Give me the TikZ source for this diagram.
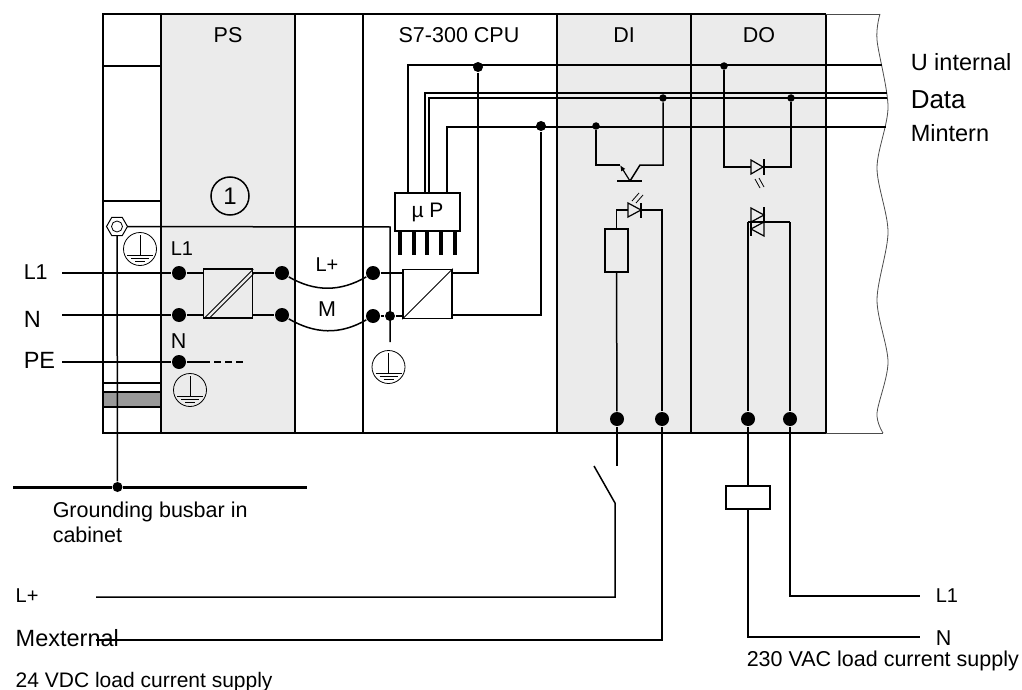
\documentclass[tikz,border=0pt]{standalone}
\usepackage{fontspec}
\setmainfont{Liberation Sans}
\usetikzlibrary{shapes.geometric,arrows.meta}

\begin{document}
\begin{tikzpicture}[x=1pt,y=-1pt,line width=1.5pt,
			big dot/.style={circle,fill=black,inner sep=0pt,minimum size=14pt},
			small dot/.style={circle,fill=black,inner sep=0pt,minimum size=10pt},
			tiny dot/.style={circle,fill=black,inner sep=0pt,minimum size=7.5pt},
			box node/.style={rectangle,draw,inner sep=0pt,minimum width=49pt,minimum height=49pt},
			earth node/.style={circle,draw,line width=0.8pt,inner sep=0pt,minimum size=33pt},
			lbl/.style={inner sep=0pt,font=\fontsize{21.5}{24}\selectfont,anchor=base},
			lblw/.style={lbl,anchor=base west},
			small lbl/.style={lblw,font=\fontsize{20}{24}\selectfont},
			big lbl/.style={lblw,font=\fontsize{23.5}{28}\selectfont}
			]
			\useasboundingbox (0,0) rectangle (1022,690);

			\def \top {14};
			\def \bot {433};

			\fill[black!8] (161,\top) rectangle (295,\bot);
			\fill[black!8] (557,\top) rectangle (826,\bot);
			\fill[black!40] (103,392) rectangle (161,407);

			\draw (826,\top) -- (103,\top) -- (103,\bot) -- (826,\bot);
			\foreach \x in {161,295,363,557,691,826} {
				\draw (\x,\top) -- (\x,\bot);
			}
			\foreach \y in {66,201,383,392,407} {
				\draw (103,\y) -- (161,\y);
			}
			\draw[line width=0.8pt,black!70] (826,\top) -- (880,\top) (826,\bot) -- (883,\bot);
			\draw[line width=0.8pt,black!70] plot[smooth] coordinates {(880,14) (877,40) (888,107) (877,168) (888,232) (877,300) (888,362) (877,413) (883,433)};

			\node[lbl] (ps) at (228,43) {PS};
			\node[lbl] (cpu) at (459,43) {S7-300 CPU};
			\node[lbl] (di) at (624,43) {DI};
			\node[lbl] (do) at (759,43) {DO};
			\node[big lbl] (uint) at (910,71) {U internal};
			\node[big lbl,font=\fontsize{26}{30}\selectfont] (data) at (910,109) {Data};
			\node[big lbl] (mint) at (910,142) {Mintern};

			\node[circle,draw,inner sep=0pt,minimum size=38pt,font=\fontsize{24}{28}\selectfont] (one) at (230,196) {1};

			\node[small lbl] (l1in) at (170,255) {L1};
			\node[lblw] (nin) at (170,348) {N};
			\node[small lbl,anchor=base] (lplus) at (327,271) {L+};
			\node[lbl] (m) at (327,316) {M};
			\node[lblw] (l1out) at (23,279) {L1};
			\node[big lbl] (nout) at (23,327) {N};
			\node[big lbl] (peout) at (23,368) {PE};
			\node[small lbl] (lp) at (15,602) {L+};
			\node[big lbl] (mext) at (15,646) {Mexternal};
			\node[small lbl] (lr) at (935,602) {L1};
			\node[lblw] (nr) at (935,645) {N};
			\node[lblw] (vac) at (746,666) {230 VAC load current supply};
			\node[lblw,font=\fontsize{21}{24}\selectfont] (vdc) at (15,687) {24 VDC load current supply};
			\node[lblw] (gnd1) at (52,517) {Grounding busbar in};
			\node[lblw] (gnd2) at (52,542) {cabinet};

			\node[big dot] (a1) at (179,273) {};
			\node[big dot] (a2) at (179,315) {};
			\node[big dot] (a3) at (179,362) {};
			\node[big dot] (b1) at (282,273) {};
			\node[big dot] (b2) at (282,315) {};
			\node[big dot] (c1) at (373,273) {};
			\node[big dot] (c2) at (373,316) {};
			\node[small dot] (c3) at (390,316) {};
			\node[small dot] (uj) at (478,67) {};
			\node[small dot] (mj) at (541,126) {};
			\node[tiny dot] (tj) at (596,126) {};
			\node[tiny dot] (dj) at (663,98) {};
			\node[tiny dot] (oj) at (724,66) {};
			\node[tiny dot] (ej) at (791,98) {};
			\node[big dot] (d1) at (617,419) {};
			\node[big dot] (d2) at (662,419) {};
			\node[big dot] (e1) at (748,419) {};
			\node[big dot] (e2) at (790,419) {};
			\node[small dot] (bus) at (117.5,487) {};

			\node[box node] (conv1) at (228,293.5) {};
			\node[box node] (conv2) at (427.5,294) {};
			\node[rectangle,draw,inner sep=0pt,minimum width=65pt,minimum height=38pt,font=\fontsize{21}{24}\selectfont] (up) at (427.5,212) {µ P};
			\node[rectangle,draw,inner sep=0pt,minimum width=23pt,minimum height=43pt] (res) at (616.5,250.5) {};
			\node[rectangle,draw,fill=white,inner sep=0pt,minimum width=44pt,minimum height=23pt] (relay) at (748,497.5) {};
			\node[regular polygon,regular polygon sides=6,draw,line width=1pt,inner sep=0pt,minimum size=21pt] (nut) at (117,226.5) {};
			\node[circle,draw,line width=0.8pt,inner sep=0pt,minimum size=11pt] (nuth) at (117,226.5) {};

			\draw[line width=0.8pt] ([xshift=1pt]conv1.south west) -- ([yshift=-1pt]conv1.north east);
			\draw[line width=0.8pt] ([xshift=6pt]conv1.south west) -- ([yshift=-6pt]conv1.north east);
			\draw[line width=0.8pt] (conv2.south west) -- (conv2.north east);

			\foreach \x in {400,414,427,441,455} {
				\draw[line width=3.5pt] (\x,231) -- (\x,255);
			}

			\foreach \n/\x/\y in {ea/140/249,eb/190/390,ec/388.5/367} {
				\node[earth node] (\n) at (\x,\y) {};
				\draw[line width=0.8pt] (\x,\y-14) -- (\x,\y+6);
				\draw[line width=0.8pt] (\x-13,\y+6) -- (\x+13,\y+6);
				\draw[line width=0.8pt] (\x-9,\y+9) -- (\x+9,\y+9);
				\draw[line width=0.8pt] (\x-5,\y+12) -- (\x+5,\y+12);
			}

			\coordinate (l1end) at (62,273);
			\coordinate (nend) at (62,315);
			\coordinate (peend) at (62,362);
			\coordinate (busl) at (13,487);
			\coordinate (busr) at (307,487);
			\coordinate (pedash) at (203,362);
			\coordinate (pedash2) at (246,362);
			\coordinate (gndcorner) at (390,227);
			\coordinate (gndend) at (390,342);

			\draw (l1end) -- (a1) -- (conv1.west |- a1);
			\draw (nend) -- (a2) -- (conv1.west |- a2);
			\draw (peend) -- (a3) -- (pedash);
			\draw[dashed,dash pattern=on 7pt off 4pt] (pedash) -- (pedash2);
			\draw (conv1.east |- b1) -- (b1);
			\draw (conv1.east |- b2) -- (b2);
			\draw (b1) to[out=-30,in=-150,looseness=1] (c1);
			\draw (b2) to[out=-30,in=-150,looseness=1] (c2);
			\draw (c1) -- (conv2.west |- c1);
			\draw (c2) -- (c3) -- (conv2.west |- c3);
			\draw (nut) -- (gndcorner) -- (gndend);
			\draw (nut) -- (bus);
			\draw[line width=3pt] (busl) -- (bus) -- (busr);

			\coordinate (uend) at (882,65);
			\coordinate (d1end) at (887,93);
			\coordinate (d2end) at (887,98);
			\coordinate (mend) at (886,127);

			\draw (up.north -| 408,0) |- (uend);
			\draw (up.north -| 425,0) |- (d1end);
			\draw (up.north -| 429,0) |- (d2end);
			\draw (up.north -| 447,0) |- (mend);
			\draw (uj) -- (uj |- c1) -- (conv2.east |- c1);
			\draw (mj) |- (conv2.east |- 0,315);

			\coordinate (emit) at (620,165);
			\coordinate (ebase) at (630,181);
			\coordinate (coll) at (640,165);
			\draw (tj) |- (emit);
			\draw[-{Latex[length=6pt,width=5pt]},line width=1.2pt] (ebase) -- (emit);
			\draw (ebase) -- (coll) -- (663,165) -- (dj);
			\draw (617,181) -- (642,181);

			\draw[line width=1.2pt] (628,203) -- (641,210) -- (628,217) -- cycle;
			\draw[line width=1.2pt] (641,203) -- (641,218);
			\draw[line width=0.8pt] (632,201) -- (639,193) (636,203) -- (643,195);
			\draw (res.north) |- (628,210);
			\draw (641,210) -- (d2 |- 0,210) -- (d2);
			\draw (res.south) -- (d1);

			\coordinate (swtop) at (617,466);
			\coordinate (swa) at (594,466);
			\coordinate (swb) at (615,503);
			\coordinate (lpend) at (96,597);
			\coordinate (mend2) at (96,640);
			\coordinate (l1rend) at (920,596);
			\coordinate (nrend) at (920,637);

			\draw (d1) -- (swtop);
			\draw (swa) -- (swb) |- (lpend);
			\draw (d2) |- (mend2);

			\coordinate (ledl) at (751,167);
			\coordinate (ledr) at (763,167);
			\draw (oj) |- (ledl);
			\draw (ledr) -| (ej);
			\draw[line width=1.2pt] (751,160) -- (763,167) -- (751,174) -- cycle;
			\draw[line width=1.2pt] (764,159) -- (764,175);
			\draw[line width=0.8pt] (755,179) -- (760,188) (759,178) -- (764,187);

			\draw[line width=1.2pt] (751,208) -- (764,215) -- (751,222) -- cycle;
			\draw[line width=1.2pt] (764,222) -- (751,229) -- (764,236) -- cycle;
			\draw[line width=1.2pt] (764,207) -- (764,222) (751,222) -- (751,236);
			\draw (e1 |- 0,222) -- (e2 |- 0,222);
			\draw (e1 |- 0,222) -- (e1) -- (relay.north -| e1);
			\draw (e2 |- 0,222) -- (e2) |- (l1rend);
			\draw (relay.south -| e1) |- (nrend);
		\end{tikzpicture}
\end{document}
